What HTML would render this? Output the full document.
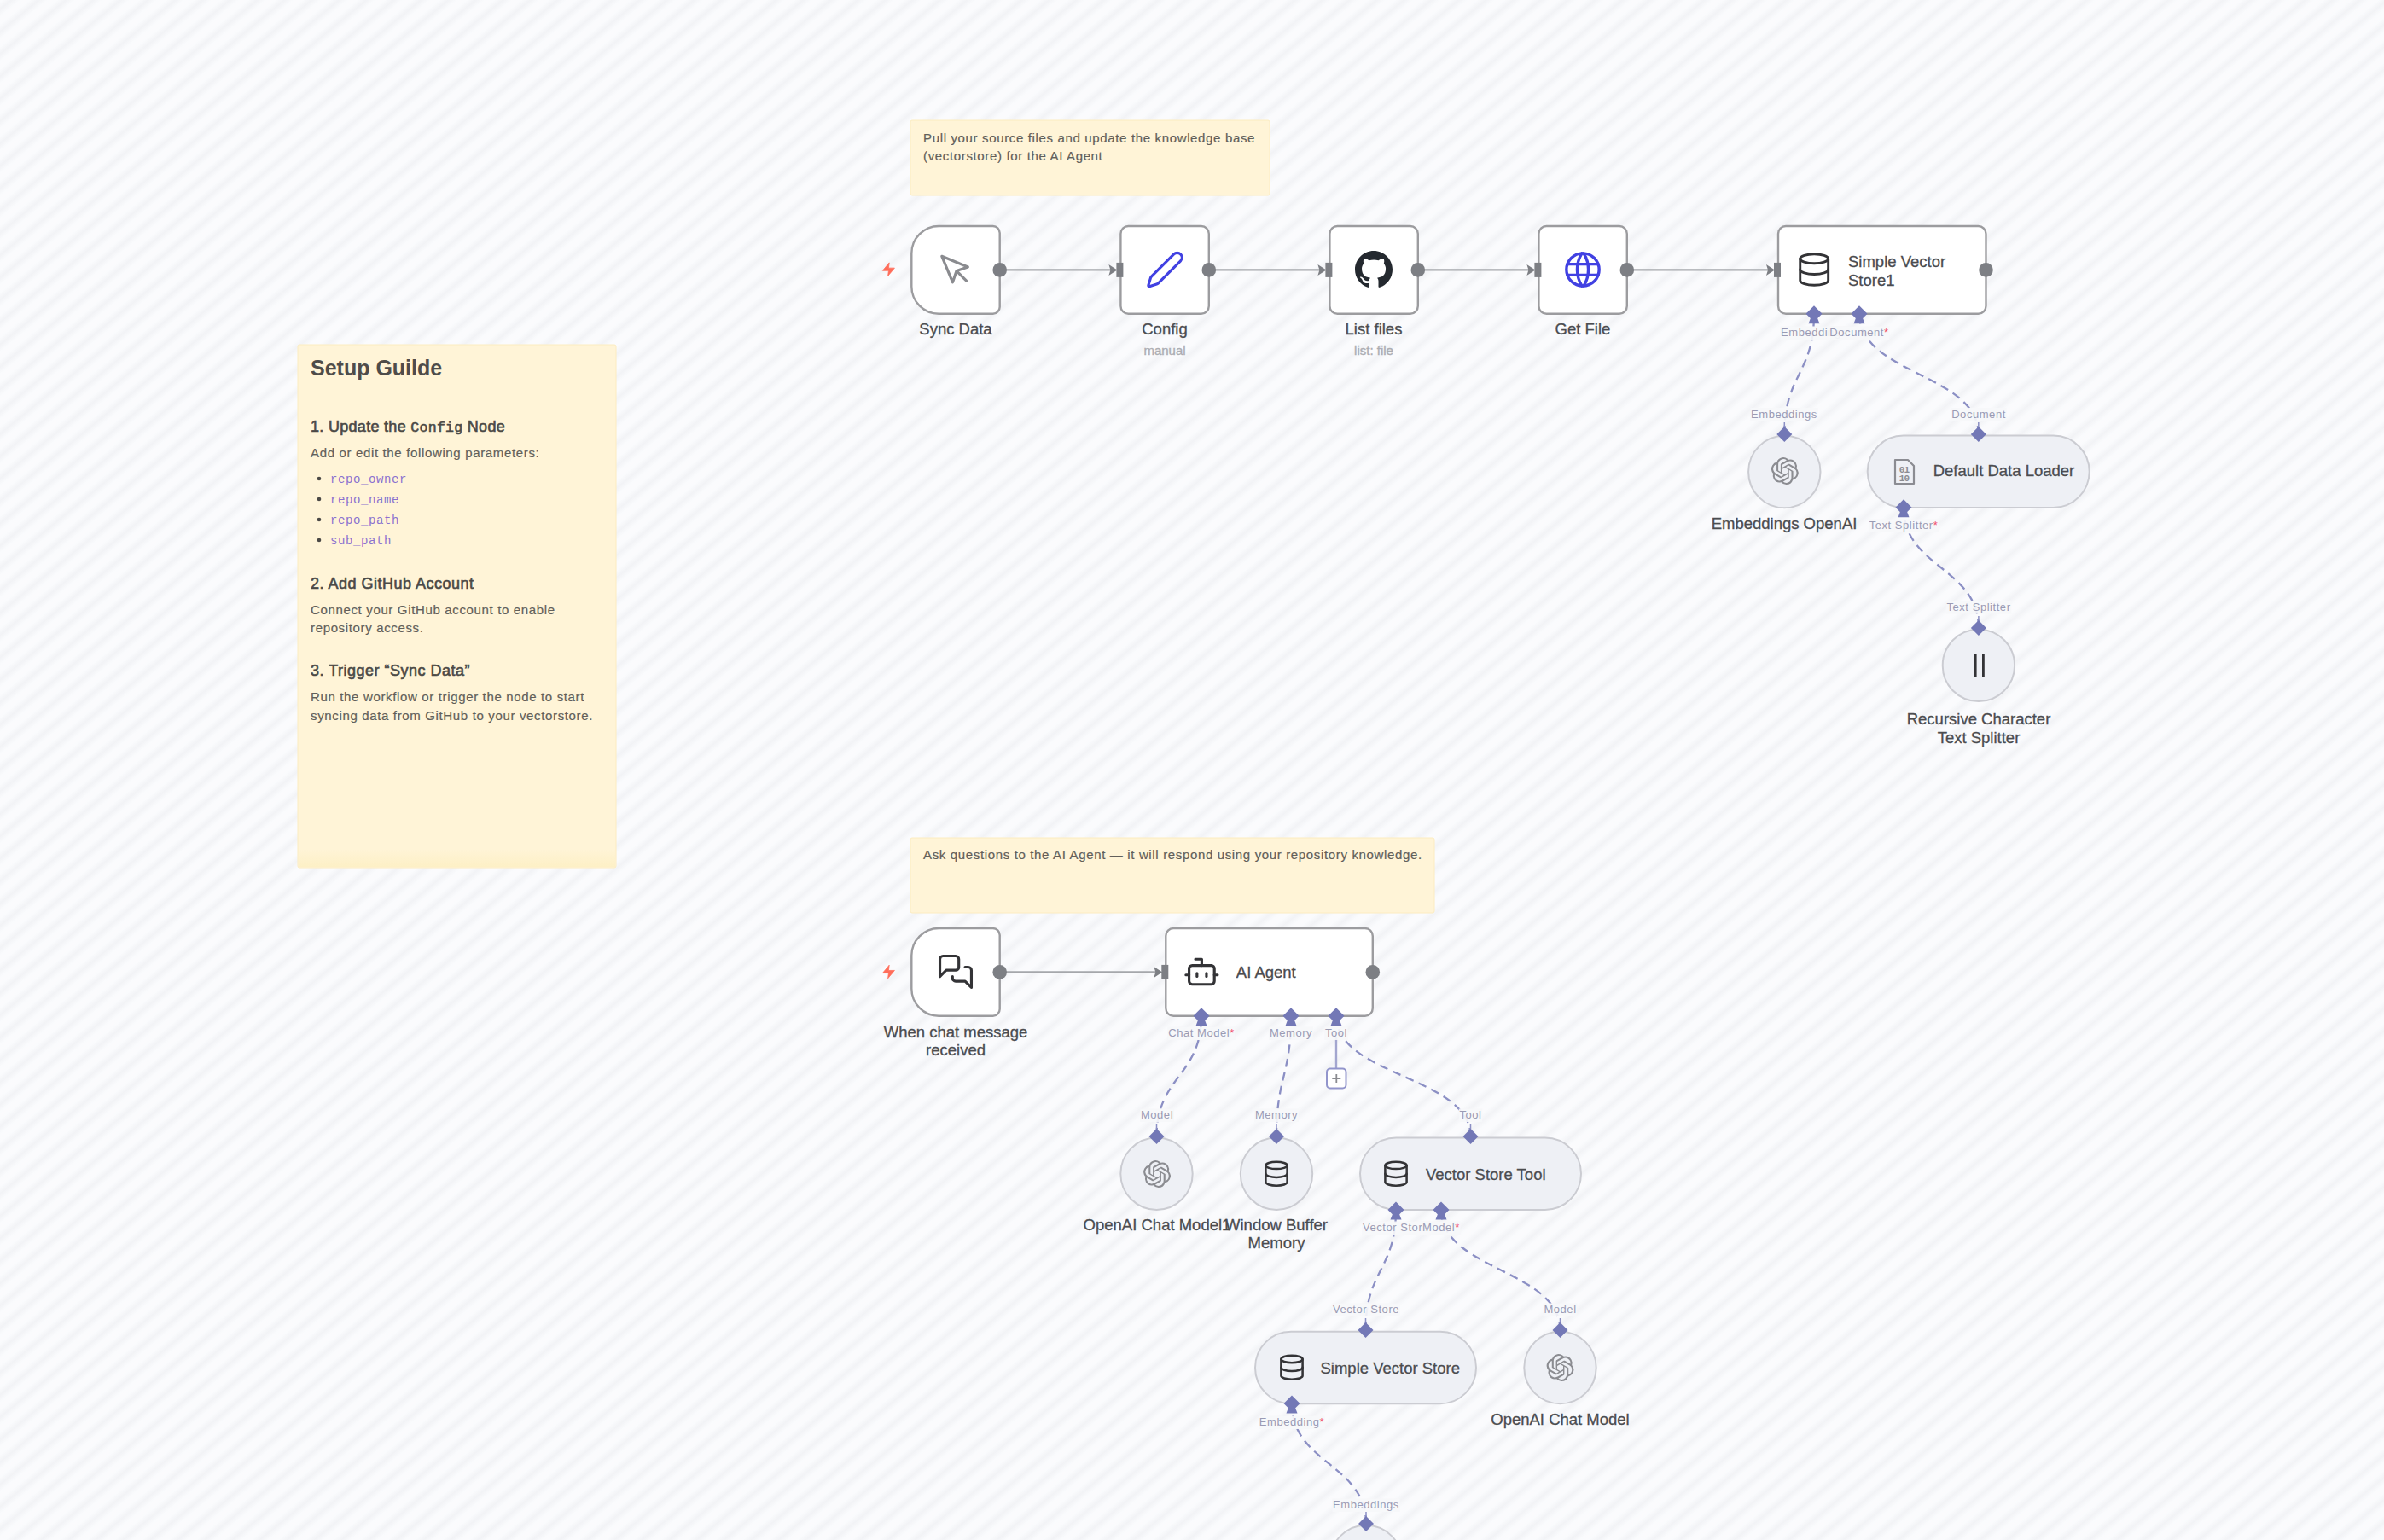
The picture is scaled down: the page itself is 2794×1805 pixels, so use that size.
<!DOCTYPE html><html><head><meta charset="utf-8"><title>n8n workflow</title><style>html,body{margin:0;padding:0;width:2794px;height:1805px;overflow:hidden;}body{background-color:#f6f7fa;background-image:repeating-linear-gradient(140.7deg,#fbfbfd -1.64px,#fafbfd 2px,#f2f3f6 8.5px,#fafbfd 15px,#fbfbfd 18.63px);}svg{position:absolute;left:0;top:0;}</style></head><body>
<svg width="2794" height="1805" viewBox="0 0 2794 1805">
<rect x="1067" y="141" width="421" height="88" rx="2" fill="#fff4d7" stroke="#fcecc0" stroke-width="1"/>
<rect x="349" y="404" width="373" height="613" rx="2" fill="#fff4d7" stroke="#fcecc0" stroke-width="1"/>
<defs><linearGradient id="sg" x1="0" y1="0" x2="0" y2="1"><stop offset="0" stop-color="#fdf0c6" stop-opacity="0"/><stop offset="1" stop-color="#fdf0c6" stop-opacity="1"/></linearGradient></defs>
<rect x="350" y="995" width="371" height="21" fill="url(#sg)"/>
<rect x="1067" y="982" width="614" height="88" rx="2" fill="#fff4d7" stroke="#fcecc0" stroke-width="1"/>
<text x="1082" y="166.5" font-family='"Liberation Sans", sans-serif' font-size="15" fill="#625f5a" text-anchor="start" font-weight="normal" letter-spacing="0.65" stroke="#625f5a" stroke-width="0.2" >Pull your source files and update the knowledge base</text>
<text x="1082" y="188" font-family='"Liberation Sans", sans-serif' font-size="15" fill="#625f5a" text-anchor="start" font-weight="normal" letter-spacing="0.65" stroke="#625f5a" stroke-width="0.2" >(vectorstore) for the AI Agent</text>
<text x="1082" y="1006.5" font-family='"Liberation Sans", sans-serif' font-size="15" fill="#625f5a" text-anchor="start" font-weight="normal" letter-spacing="0.65" stroke="#625f5a" stroke-width="0.2" >Ask questions to the AI Agent — it will respond using your repository knowledge.</text>
<text x="364" y="439.5" font-family='"Liberation Sans", sans-serif' font-size="25" fill="#4e4c4a" text-anchor="start" font-weight="bold" letter-spacing="0" >Setup Guilde</text>
<text x="364" y="506" font-family='"Liberation Sans", sans-serif' font-size="18" fill="#4b4946" stroke="#4b4946" stroke-width="0.6" letter-spacing="0.3">1. Update the <tspan font-family='"Liberation Mono", monospace' font-size="16.5">Config</tspan> Node</text>
<text x="364" y="536" font-family='"Liberation Sans", sans-serif' font-size="15" fill="#625f5a" text-anchor="start" font-weight="normal" letter-spacing="0.65" stroke="#625f5a" stroke-width="0.2" >Add or edit the following parameters:</text>
<circle cx="374" cy="561" r="2.3" fill="#4b4946"/>
<text x="387" y="566" font-family='"Liberation Mono", monospace' font-size="14" fill="#8a72cf" text-anchor="start" font-weight="normal" letter-spacing="0.6" >repo_owner</text>
<circle cx="374" cy="585" r="2.3" fill="#4b4946"/>
<text x="387" y="590" font-family='"Liberation Mono", monospace' font-size="14" fill="#8a72cf" text-anchor="start" font-weight="normal" letter-spacing="0.6" >repo_name</text>
<circle cx="374" cy="609" r="2.3" fill="#4b4946"/>
<text x="387" y="614" font-family='"Liberation Mono", monospace' font-size="14" fill="#8a72cf" text-anchor="start" font-weight="normal" letter-spacing="0.6" >repo_path</text>
<circle cx="374" cy="633" r="2.3" fill="#4b4946"/>
<text x="387" y="638" font-family='"Liberation Mono", monospace' font-size="14" fill="#8a72cf" text-anchor="start" font-weight="normal" letter-spacing="0.6" >sub_path</text>
<text x="364" y="690" font-family='"Liberation Sans", sans-serif' font-size="18" fill="#4b4946" text-anchor="start" font-weight="normal" letter-spacing="0.5" stroke="#4b4946" stroke-width="0.6" >2. Add GitHub Account</text>
<text x="364" y="720" font-family='"Liberation Sans", sans-serif' font-size="15" fill="#625f5a" text-anchor="start" font-weight="normal" letter-spacing="0.65" stroke="#625f5a" stroke-width="0.2" >Connect your GitHub account to enable</text>
<text x="364" y="740.5" font-family='"Liberation Sans", sans-serif' font-size="15" fill="#625f5a" text-anchor="start" font-weight="normal" letter-spacing="0.65" stroke="#625f5a" stroke-width="0.2" >repository access.</text>
<text x="364" y="792" font-family='"Liberation Sans", sans-serif' font-size="18" fill="#4b4946" text-anchor="start" font-weight="normal" letter-spacing="0.5" stroke="#4b4946" stroke-width="0.6" >3. Trigger “Sync Data”</text>
<text x="364" y="822" font-family='"Liberation Sans", sans-serif' font-size="15" fill="#625f5a" text-anchor="start" font-weight="normal" letter-spacing="0.65" stroke="#625f5a" stroke-width="0.2" >Run the workflow or trigger the node to start</text>
<text x="364" y="844" font-family='"Liberation Sans", sans-serif' font-size="15" fill="#625f5a" text-anchor="start" font-weight="normal" letter-spacing="0.65" stroke="#625f5a" stroke-width="0.2" >syncing data from GitHub to your vectorstore.</text>
<line x1="1171.7" y1="316.4" x2="1302.4" y2="316.4" stroke="#a5a7ab" stroke-width="2.4"/>
<polygon points="1299.4,309.9 1309.4,316.4 1299.4,322.9 1301.4,316.4" fill="#7d7f84"/>
<line x1="1416.8" y1="316.4" x2="1547.4" y2="316.4" stroke="#a5a7ab" stroke-width="2.4"/>
<polygon points="1544.4,309.9 1554.4,316.4 1544.4,322.9 1546.4,316.4" fill="#7d7f84"/>
<line x1="1661.8" y1="316.4" x2="1792.4" y2="316.4" stroke="#a5a7ab" stroke-width="2.4"/>
<polygon points="1789.4,309.9 1799.4,316.4 1789.4,322.9 1791.4,316.4" fill="#7d7f84"/>
<line x1="1906.8" y1="316.4" x2="2073" y2="316.4" stroke="#a5a7ab" stroke-width="2.4"/>
<polygon points="2070,309.9 2080,316.4 2070,322.9 2072,316.4" fill="#7d7f84"/>
<line x1="1171.7" y1="1139.4" x2="1355.3" y2="1139.4" stroke="#a5a7ab" stroke-width="2.4"/>
<polygon points="1352.3,1132.9 1362.3,1139.4 1352.3,1145.9 1354.3,1139.4" fill="#7d7f84"/>
<path d="M2091.3,509 C2091.3,438.4 2126,438.4 2126,367.8" fill="none" stroke="#8b8fc4" stroke-width="2.3" stroke-dasharray="10 6.5"/>
<path d="M2318.8,509 C2318.8,438.4 2179,438.4 2179,367.8" fill="none" stroke="#8b8fc4" stroke-width="2.3" stroke-dasharray="10 6.5"/>
<path d="M2318.9,736 C2318.9,665.4 2231,665.4 2231,594.8" fill="none" stroke="#8b8fc4" stroke-width="2.3" stroke-dasharray="10 6.5"/>
<path d="M1355.5,1332 C1355.5,1261.4 1408,1261.4 1408,1190.8" fill="none" stroke="#8b8fc4" stroke-width="2.3" stroke-dasharray="10 6.5"/>
<path d="M1496,1332 C1496,1261.4 1513,1261.4 1513,1190.8" fill="none" stroke="#8b8fc4" stroke-width="2.3" stroke-dasharray="10 6.5"/>
<path d="M1723.5,1332 C1723.5,1261.4 1566,1261.4 1566,1190.8" fill="none" stroke="#8b8fc4" stroke-width="2.3" stroke-dasharray="10 6.5"/>
<path d="M1600.5,1559 C1600.5,1488.5 1636,1488.5 1636,1418" fill="none" stroke="#8b8fc4" stroke-width="2.3" stroke-dasharray="10 6.5"/>
<path d="M1828.5,1559 C1828.5,1488.5 1689,1488.5 1689,1418" fill="none" stroke="#8b8fc4" stroke-width="2.3" stroke-dasharray="10 6.5"/>
<path d="M1601,1786 C1601,1715.5 1514,1715.5 1514,1645" fill="none" stroke="#8b8fc4" stroke-width="2.3" stroke-dasharray="10 6.5"/>
<line x1="1566" y1="1215" x2="1566" y2="1252" stroke="#a3a6cf" stroke-width="2.4"/>
<rect x="1555" y="1252.5" width="22.5" height="23" rx="4" fill="#ffffff" stroke="#9295cc" stroke-width="2"/>
<path d="M1566.3,1259 v10 M1561.3,1264 h10" stroke="#8a8b90" stroke-width="1.8"/>
<path d="M1100.3,265 H1163.7 A8,8 0 0 1 1171.7,273 V359.8 A8,8 0 0 1 1163.7,367.8 H1100.3 A32,32 0 0 1 1068.3,335.8 V297 A32,32 0 0 1 1100.3,265 Z" fill="#ffffff" stroke="#9c9c9f" stroke-width="2.4"/>
<rect x="1313.4" y="265" width="103.4" height="102.8" rx="9" fill="#ffffff" stroke="#9c9c9f" stroke-width="2.4"/>
<rect x="1558.4" y="265" width="103.4" height="102.8" rx="9" fill="#ffffff" stroke="#9c9c9f" stroke-width="2.4"/>
<rect x="1803.4" y="265" width="103.4" height="102.8" rx="9" fill="#ffffff" stroke="#9c9c9f" stroke-width="2.4"/>
<rect x="2084" y="265" width="243.5" height="102.8" rx="9" fill="#ffffff" stroke="#9c9c9f" stroke-width="2.4"/>
<path d="M1100.3,1088 H1163.7 A8,8 0 0 1 1171.7,1096 V1182.8 A8,8 0 0 1 1163.7,1190.8 H1100.3 A32,32 0 0 1 1068.3,1158.8 V1120 A32,32 0 0 1 1100.3,1088 Z" fill="#ffffff" stroke="#9c9c9f" stroke-width="2.4"/>
<rect x="1366.3" y="1088" width="242.5" height="102.8" rx="9" fill="#ffffff" stroke="#9c9c9f" stroke-width="2.4"/>
<rect x="2049.1000000000004" y="510.8" width="84.4" height="84.4" rx="42.2" fill="#eef0f5" stroke="#cbccd2" stroke-width="2"/>
<rect x="2188.7" y="510.6" width="260" height="84.4" rx="42.2" fill="#eef0f5" stroke="#cbccd2" stroke-width="2"/>
<rect x="2276.7000000000003" y="737.6999999999999" width="84.4" height="84.4" rx="42.2" fill="#eef0f5" stroke="#cbccd2" stroke-width="2"/>
<rect x="1313.3" y="1333.5" width="84.4" height="84.4" rx="42.2" fill="#eef0f5" stroke="#cbccd2" stroke-width="2"/>
<rect x="1453.8" y="1333.5" width="84.4" height="84.4" rx="42.2" fill="#eef0f5" stroke="#cbccd2" stroke-width="2"/>
<rect x="1594" y="1333.5" width="259" height="84.4" rx="42.2" fill="#eef0f5" stroke="#cbccd2" stroke-width="2"/>
<rect x="1471" y="1560.8" width="259" height="84.4" rx="42.2" fill="#eef0f5" stroke="#cbccd2" stroke-width="2"/>
<rect x="1786.3" y="1560.8" width="84.4" height="84.4" rx="42.2" fill="#eef0f5" stroke="#cbccd2" stroke-width="2"/>
<rect x="1558.8" y="1787.8" width="84.4" height="84.4" rx="42.2" fill="#eef0f5" stroke="#cbccd2" stroke-width="2"/>
<circle cx="1171.7" cy="316.4" r="8.3" fill="#7d7f84"/>
<circle cx="1416.8" cy="316.4" r="8.3" fill="#7d7f84"/>
<circle cx="1661.8" cy="316.4" r="8.3" fill="#7d7f84"/>
<circle cx="1906.8" cy="316.4" r="8.3" fill="#7d7f84"/>
<circle cx="2327.5" cy="316.4" r="8.3" fill="#7d7f84"/>
<rect x="1308.4" y="307.9" width="8" height="17" fill="#7d7f84"/>
<rect x="1553.4" y="307.9" width="8" height="17" fill="#7d7f84"/>
<rect x="1798.4" y="307.9" width="8" height="17" fill="#7d7f84"/>
<rect x="2079" y="307.9" width="8" height="17" fill="#7d7f84"/>
<circle cx="1171.7" cy="1139.4" r="8.3" fill="#7d7f84"/>
<circle cx="1608.8" cy="1139.4" r="8.3" fill="#7d7f84"/>
<rect x="1361.3" y="1130.9" width="8" height="17" fill="#7d7f84"/>
<polygon points="2126,358.3 2135.5,367.8 2126,377.3 2116.5,367.8" fill="#7378b6"/>
<polygon points="2119.5,379.3 2132.5,379.3 2130,372.8 2122,372.8" fill="#7378b6"/>
<polygon points="2179,358.3 2188.5,367.8 2179,377.3 2169.5,367.8" fill="#7378b6"/>
<polygon points="2172.5,379.3 2185.5,379.3 2183,372.8 2175,372.8" fill="#7378b6"/>
<polygon points="2231,585.3 2240.5,594.8 2231,604.3 2221.5,594.8" fill="#7378b6"/>
<polygon points="2224.5,606.3 2237.5,606.3 2235,599.8 2227,599.8" fill="#7378b6"/>
<polygon points="1408,1181.3 1417.5,1190.8 1408,1200.3 1398.5,1190.8" fill="#7378b6"/>
<polygon points="1401.5,1202.3 1414.5,1202.3 1412,1195.8 1404,1195.8" fill="#7378b6"/>
<polygon points="1513,1181.3 1522.5,1190.8 1513,1200.3 1503.5,1190.8" fill="#7378b6"/>
<polygon points="1506.5,1202.3 1519.5,1202.3 1517,1195.8 1509,1195.8" fill="#7378b6"/>
<polygon points="1566,1181.3 1575.5,1190.8 1566,1200.3 1556.5,1190.8" fill="#7378b6"/>
<polygon points="1559.5,1202.3 1572.5,1202.3 1570,1195.8 1562,1195.8" fill="#7378b6"/>
<polygon points="1636,1408.5 1645.5,1418 1636,1427.5 1626.5,1418" fill="#7378b6"/>
<polygon points="1629.5,1429.5 1642.5,1429.5 1640,1423 1632,1423" fill="#7378b6"/>
<polygon points="1689,1408.5 1698.5,1418 1689,1427.5 1679.5,1418" fill="#7378b6"/>
<polygon points="1682.5,1429.5 1695.5,1429.5 1693,1423 1685,1423" fill="#7378b6"/>
<polygon points="1514,1635.5 1523.5,1645 1514,1654.5 1504.5,1645" fill="#7378b6"/>
<polygon points="1507.5,1656.5 1520.5,1656.5 1518,1650 1510,1650" fill="#7378b6"/>
<line x1="2091.3" y1="495" x2="2091.3" y2="509" stroke="#8b8fc4" stroke-width="1.5"/>
<polygon points="2091.3,500 2100.3,509 2091.3,518 2082.3,509" fill="#7378b6"/>
<line x1="2318.8" y1="495" x2="2318.8" y2="509" stroke="#8b8fc4" stroke-width="1.5"/>
<polygon points="2318.8,500 2327.8,509 2318.8,518 2309.8,509" fill="#7378b6"/>
<line x1="2318.9" y1="722" x2="2318.9" y2="736" stroke="#8b8fc4" stroke-width="1.5"/>
<polygon points="2318.9,727 2327.9,736 2318.9,745 2309.9,736" fill="#7378b6"/>
<line x1="1355.5" y1="1318" x2="1355.5" y2="1332" stroke="#8b8fc4" stroke-width="1.5"/>
<polygon points="1355.5,1323 1364.5,1332 1355.5,1341 1346.5,1332" fill="#7378b6"/>
<line x1="1496" y1="1318" x2="1496" y2="1332" stroke="#8b8fc4" stroke-width="1.5"/>
<polygon points="1496,1323 1505,1332 1496,1341 1487,1332" fill="#7378b6"/>
<line x1="1723.5" y1="1318" x2="1723.5" y2="1332" stroke="#8b8fc4" stroke-width="1.5"/>
<polygon points="1723.5,1323 1732.5,1332 1723.5,1341 1714.5,1332" fill="#7378b6"/>
<line x1="1600.5" y1="1545" x2="1600.5" y2="1559" stroke="#8b8fc4" stroke-width="1.5"/>
<polygon points="1600.5,1550 1609.5,1559 1600.5,1568 1591.5,1559" fill="#7378b6"/>
<line x1="1828.5" y1="1545" x2="1828.5" y2="1559" stroke="#8b8fc4" stroke-width="1.5"/>
<polygon points="1828.5,1550 1837.5,1559 1828.5,1568 1819.5,1559" fill="#7378b6"/>
<line x1="1601" y1="1772" x2="1601" y2="1786" stroke="#8b8fc4" stroke-width="1.5"/>
<polygon points="1601,1777 1610,1786 1601,1795 1592,1786" fill="#7378b6"/>
<g>
<rect x="2086.3921875" y="382.5" width="79.215625" height="15.5" fill="#f6f7fa" fill-opacity="0.92"/>
<text x="2126" y="394" font-family='"Liberation Sans", sans-serif' font-size="13" fill="#9a9bb4" text-anchor="middle" letter-spacing="0.55">Embeddings</text>
</g>
<g>
<rect x="2143.64609375" y="382.5" width="70.7078125" height="15.5" fill="#f6f7fa" fill-opacity="0.92"/>
<text x="2179" y="394" font-family='"Liberation Sans", sans-serif' font-size="13" fill="#9a9bb4" text-anchor="middle" letter-spacing="0.55">Document<tspan fill="#f0506e">*</tspan></text>
</g>
<g>
<rect x="2051.3921875" y="478.0" width="79.215625" height="15.5" fill="#f6f7fa" fill-opacity="0.92"/>
<text x="2091" y="489.5" font-family='"Liberation Sans", sans-serif' font-size="13" fill="#9a9bb4" text-anchor="middle" letter-spacing="0.55">Embeddings</text>
</g>
<g>
<rect x="2286.45078125" y="478.0" width="65.0984375" height="15.5" fill="#f6f7fa" fill-opacity="0.92"/>
<text x="2319" y="489.5" font-family='"Liberation Sans", sans-serif' font-size="13" fill="#9a9bb4" text-anchor="middle" letter-spacing="0.55">Document</text>
</g>
<g>
<rect x="2189.93828125" y="608.5" width="82.12343750000001" height="15.5" fill="#f6f7fa" fill-opacity="0.92"/>
<text x="2231" y="620" font-family='"Liberation Sans", sans-serif' font-size="13" fill="#9a9bb4" text-anchor="middle" letter-spacing="0.55">Text Splitter<tspan fill="#f0506e">*</tspan></text>
</g>
<g>
<rect x="2280.74296875" y="704.0" width="76.5140625" height="15.5" fill="#f6f7fa" fill-opacity="0.92"/>
<text x="2319" y="715.5" font-family='"Liberation Sans", sans-serif' font-size="13" fill="#9a9bb4" text-anchor="middle" letter-spacing="0.55">Text Splitter</text>
</g>
<g>
<rect x="1368.48125" y="1203.5" width="79.0375" height="15.5" fill="#f6f7fa" fill-opacity="0.92"/>
<text x="1408" y="1215" font-family='"Liberation Sans", sans-serif' font-size="13" fill="#9a9bb4" text-anchor="middle" letter-spacing="0.55">Chat Model<tspan fill="#f0506e">*</tspan></text>
</g>
<g>
<rect x="1487.15078125" y="1203.5" width="51.6984375" height="15.5" fill="#f6f7fa" fill-opacity="0.92"/>
<text x="1513" y="1215" font-family='"Liberation Sans", sans-serif' font-size="13" fill="#9a9bb4" text-anchor="middle" letter-spacing="0.55">Memory</text>
</g>
<g>
<rect x="1552.2515625" y="1203.5" width="27.496875" height="15.5" fill="#f6f7fa" fill-opacity="0.92"/>
<text x="1566" y="1215" font-family='"Liberation Sans", sans-serif' font-size="13" fill="#9a9bb4" text-anchor="middle" letter-spacing="0.55">Tool</text>
</g>
<g>
<rect x="1336.196875" y="1299.5" width="39.60625" height="15.5" fill="#f6f7fa" fill-opacity="0.92"/>
<text x="1356" y="1311" font-family='"Liberation Sans", sans-serif' font-size="13" fill="#9a9bb4" text-anchor="middle" letter-spacing="0.55">Model</text>
</g>
<g>
<rect x="1470.15078125" y="1299.5" width="51.6984375" height="15.5" fill="#f6f7fa" fill-opacity="0.92"/>
<text x="1496" y="1311" font-family='"Liberation Sans", sans-serif' font-size="13" fill="#9a9bb4" text-anchor="middle" letter-spacing="0.55">Memory</text>
</g>
<g>
<rect x="1709.7515625" y="1299.5" width="27.496875" height="15.5" fill="#f6f7fa" fill-opacity="0.92"/>
<text x="1723.5" y="1311" font-family='"Liberation Sans", sans-serif' font-size="13" fill="#9a9bb4" text-anchor="middle" letter-spacing="0.55">Tool</text>
</g>
<g>
<rect x="1596.20546875" y="1431.5" width="79.5890625" height="15.5" fill="#f6f7fa" fill-opacity="0.92"/>
<text x="1636" y="1443" font-family='"Liberation Sans", sans-serif' font-size="13" fill="#9a9bb4" text-anchor="middle" letter-spacing="0.55">Vector Store</text>
</g>
<g>
<rect x="1666.3921875" y="1431.5" width="45.215625" height="15.5" fill="#f6f7fa" fill-opacity="0.92"/>
<text x="1689" y="1443" font-family='"Liberation Sans", sans-serif' font-size="13" fill="#9a9bb4" text-anchor="middle" letter-spacing="0.55">Model<tspan fill="#f0506e">*</tspan></text>
</g>
<g>
<rect x="1561.20546875" y="1527.5" width="79.5890625" height="15.5" fill="#f6f7fa" fill-opacity="0.92"/>
<text x="1601" y="1539" font-family='"Liberation Sans", sans-serif' font-size="13" fill="#9a9bb4" text-anchor="middle" letter-spacing="0.55">Vector Store</text>
</g>
<g>
<rect x="1808.696875" y="1527.5" width="39.60625" height="15.5" fill="#f6f7fa" fill-opacity="0.92"/>
<text x="1828.5" y="1539" font-family='"Liberation Sans", sans-serif' font-size="13" fill="#9a9bb4" text-anchor="middle" letter-spacing="0.55">Model</text>
</g>
<g>
<rect x="1475.1125" y="1659.5" width="77.775" height="15.5" fill="#f6f7fa" fill-opacity="0.92"/>
<text x="1514" y="1671" font-family='"Liberation Sans", sans-serif' font-size="13" fill="#9a9bb4" text-anchor="middle" letter-spacing="0.55">Embedding<tspan fill="#f0506e">*</tspan></text>
</g>
<g>
<rect x="1561.3921875" y="1756.5" width="79.215625" height="15.5" fill="#f6f7fa" fill-opacity="0.92"/>
<text x="1601" y="1768" font-family='"Liberation Sans", sans-serif' font-size="13" fill="#9a9bb4" text-anchor="middle" letter-spacing="0.55">Embeddings</text>
</g>
<g transform="translate(1098.4,294.9) scale(1.8)" fill="none" stroke="#8a8b8f" stroke-width="1.75" stroke-linejoin="round" stroke-linecap="round"><path d="M3 3l7.07 16.97 2.51-7.39 7.39-2.51L3 3z"/><path d="M13 13l6 6"/></g>
<g transform="translate(1341.86,292.36) scale(1.97)" fill="none" stroke="#4141e2" stroke-width="1.6" stroke-linejoin="round" stroke-linecap="round"><path d="M21.174 6.812a1 1 0 0 0-3.986-3.987L3.842 16.174a2 2 0 0 0-.5.83l-1.321 4.352a.5.5 0 0 0 .623.622l4.353-1.32a2 2 0 0 0 .83-.497z"/></g>
<g transform="translate(1588.0,294.0) scale(2.75)" fill="#24292f"><path d="M8 0C3.58 0 0 3.58 0 8c0 3.54 2.29 6.53 5.47 7.59.4.07.55-.17.55-.38 0-.19-.01-.82-.01-1.49-2.01.37-2.53-.49-2.69-.94-.09-.23-.48-.94-.82-1.13-.28-.15-.68-.52-.01-.53.63-.01 1.08.58 1.23.82.72 1.21 1.87.87 2.33.66.07-.52.28-.87.51-1.07-1.78-.2-3.64-.89-3.64-3.95 0-.87.31-1.59.82-2.15-.08-.2-.36-1.02.08-2.12 0 0 .67-.21 2.2.82.64-.18 1.32-.27 2-.27.68 0 1.36.09 2 .27 1.53-1.04 2.2-.82 2.2-.82.44 1.1.16 1.92.08 2.12.51.56.82 1.27.82 2.15 0 3.07-1.87 3.75-3.65 3.95.29.25.54.73.54 1.48 0 1.07-.01 1.93-.01 2.2 0 .21.15.46.55.38A8.013 8.013 0 0016 8c0-4.42-3.58-8-8-8z"/></g>
<g transform="translate(1829.44,290.44) scale(2.13)" fill="none" stroke="#4141e2" stroke-width="1.6" stroke-linejoin="round" stroke-linecap="round"><circle cx="12" cy="12" r="9"/><path d="M3.6 9h16.8"/><path d="M3.6 15h16.8"/><path d="M11.5 3a17 17 0 0 0 0 18"/><path d="M12.5 3a17 17 0 0 1 0 18"/></g>
<g transform="translate(2104.24,294.04) scale(1.83)" fill="none" stroke="#333336" stroke-width="1.6" stroke-linejoin="round" stroke-linecap="round"><ellipse cx="12" cy="5" rx="9" ry="3"/><path d="M3 5V19A9 3 0 0 0 21 19V5"/><path d="M3 12A9 3 0 0 0 21 12"/></g>
<g transform="translate(1032.0400000000002,306.34) scale(0.78)"><polygon points="13,2 3,14 12,14 11,22 21,10 12,10" fill="#ff6d5a" stroke="#ff6d5a" stroke-width="1" stroke-linejoin="round"/></g>
<g transform="translate(1032.0400000000002,1129.64) scale(0.78)"><polygon points="13,2 3,14 12,14 11,22 21,10 12,10" fill="#ff6d5a" stroke="#ff6d5a" stroke-width="1" stroke-linejoin="round"/></g>
<g transform="translate(2075.8,536.0) scale(1.3333333333333333)" fill="#8b8c91"><path d="M22.2819 9.8211a5.9847 5.9847 0 0 0-.5157-4.9108 6.0462 6.0462 0 0 0-6.5098-2.9A6.0651 6.0651 0 0 0 4.9807 4.1818a5.9847 5.9847 0 0 0-3.9977 2.9 6.0462 6.0462 0 0 0 .7427 7.0966 5.98 5.98 0 0 0 .511 4.9107 6.051 6.051 0 0 0 6.5146 2.9001A5.9847 5.9847 0 0 0 13.2599 24a6.0557 6.0557 0 0 0 5.7718-4.2058 5.9894 5.9894 0 0 0 3.9977-2.9001 6.0557 6.0557 0 0 0-.7475-7.0729zm-9.022 12.6081a4.4755 4.4755 0 0 1-2.8764-1.0408l.1419-.0804 4.7783-2.7582a.7948.7948 0 0 0 .3927-.6813v-6.7369l2.02 1.1686a.071.071 0 0 1 .038.052v5.5826a4.504 4.504 0 0 1-4.4945 4.4944zm-9.6607-4.1254a4.4708 4.4708 0 0 1-.5346-3.0137l.142.0852 4.783 2.7582a.7712.7712 0 0 0 .7806 0l5.8428-3.3685v2.3324a.0804.0804 0 0 1-.0332.0615L9.74 19.9502a4.4992 4.4992 0 0 1-6.1408-1.6464zM2.3408 7.8956a4.485 4.485 0 0 1 2.3655-1.9728V11.6a.7664.7664 0 0 0 .3879.6765l5.8144 3.3543-2.0201 1.1685a.0757.0757 0 0 1-.071 0l-4.8303-2.7865A4.504 4.504 0 0 1 2.3408 7.872zm16.5963 3.8558L13.1038 8.364 15.1192 7.2a.0757.0757 0 0 1 .071 0l4.8303 2.7913a4.4944 4.4944 0 0 1-.6765 8.1042v-5.6772a.79.79 0 0 0-.407-.667zm2.0107-3.0231l-.142-.0852-4.7735-2.7818a.7759.7759 0 0 0-.7854 0L9.409 9.2297V6.8974a.0662.0662 0 0 1 .0284-.0615l4.8303-2.7866a4.4992 4.4992 0 0 1 6.6802 4.66zM8.3065 12.863l-2.02-1.1638a.0804.0804 0 0 1-.038-.0567V6.0742a4.4992 4.4992 0 0 1 7.3757-3.4537l-.142.0805L8.704 5.459a.7948.7948 0 0 0-.3927.6813zm1.0976-2.3654l2.602-1.4998 2.6069 1.4998v2.9994l-2.5974 1.4997-2.6067-1.4997Z"/></g>
<path d="M2221,539 H2236 L2243,546 V567 H2221 Z" fill="none" stroke="#8b8c92" stroke-width="2.2" stroke-linejoin="round"/>
<text x="2231.5" y="553.5" font-family='"Liberation Mono", monospace' font-size="11" font-weight="bold" fill="#8b8c92" text-anchor="middle" letter-spacing="-0.8">01</text>
<text x="2231.5" y="563.5" font-family='"Liberation Mono", monospace' font-size="11" font-weight="bold" fill="#8b8c92" text-anchor="middle" letter-spacing="-0.8">10</text>
<line x1="2315.2000000000003" y1="766.3" x2="2315.2000000000003" y2="793.7" stroke="#333336" stroke-width="2.8"/>
<line x1="2324.4" y1="766.3" x2="2324.4" y2="793.7" stroke="#333336" stroke-width="2.8"/>
<g transform="translate(1097.86,1116.86) scale(1.845)" fill="none" stroke="#333336" stroke-width="1.7" stroke-linejoin="round" stroke-linecap="round"><path d="M14 9a2 2 0 0 1-2 2H6l-4 4V4a2 2 0 0 1 2-2h8a2 2 0 0 1 2 2z"/><path d="M18 9h2a2 2 0 0 1 2 2v11l-4-4h-6a2 2 0 0 1-2-2v-1"/></g>
<g transform="translate(1386.2,1116.8) scale(1.85)" fill="none" stroke="#333336" stroke-width="1.7" stroke-linejoin="round" stroke-linecap="round"><path d="M12 8V4H8"/><rect width="16" height="12" x="4" y="8" rx="2"/><path d="M2 14h2"/><path d="M20 14h2"/><path d="M15 13v2"/><path d="M9 13v2"/></g>
<g transform="translate(1340.0,1360.0) scale(1.3333333333333333)" fill="#8b8c91"><path d="M22.2819 9.8211a5.9847 5.9847 0 0 0-.5157-4.9108 6.0462 6.0462 0 0 0-6.5098-2.9A6.0651 6.0651 0 0 0 4.9807 4.1818a5.9847 5.9847 0 0 0-3.9977 2.9 6.0462 6.0462 0 0 0 .7427 7.0966 5.98 5.98 0 0 0 .511 4.9107 6.051 6.051 0 0 0 6.5146 2.9001A5.9847 5.9847 0 0 0 13.2599 24a6.0557 6.0557 0 0 0 5.7718-4.2058 5.9894 5.9894 0 0 0 3.9977-2.9001 6.0557 6.0557 0 0 0-.7475-7.0729zm-9.022 12.6081a4.4755 4.4755 0 0 1-2.8764-1.0408l.1419-.0804 4.7783-2.7582a.7948.7948 0 0 0 .3927-.6813v-6.7369l2.02 1.1686a.071.071 0 0 1 .038.052v5.5826a4.504 4.504 0 0 1-4.4945 4.4944zm-9.6607-4.1254a4.4708 4.4708 0 0 1-.5346-3.0137l.142.0852 4.783 2.7582a.7712.7712 0 0 0 .7806 0l5.8428-3.3685v2.3324a.0804.0804 0 0 1-.0332.0615L9.74 19.9502a4.4992 4.4992 0 0 1-6.1408-1.6464zM2.3408 7.8956a4.485 4.485 0 0 1 2.3655-1.9728V11.6a.7664.7664 0 0 0 .3879.6765l5.8144 3.3543-2.0201 1.1685a.0757.0757 0 0 1-.071 0l-4.8303-2.7865A4.504 4.504 0 0 1 2.3408 7.872zm16.5963 3.8558L13.1038 8.364 15.1192 7.2a.0757.0757 0 0 1 .071 0l4.8303 2.7913a4.4944 4.4944 0 0 1-.6765 8.1042v-5.6772a.79.79 0 0 0-.407-.667zm2.0107-3.0231l-.142-.0852-4.7735-2.7818a.7759.7759 0 0 0-.7854 0L9.409 9.2297V6.8974a.0662.0662 0 0 1 .0284-.0615l4.8303-2.7866a4.4992 4.4992 0 0 1 6.6802 4.66zM8.3065 12.863l-2.02-1.1638a.0804.0804 0 0 1-.038-.0567V6.0742a4.4992 4.4992 0 0 1 7.3757-3.4537l-.142.0805L8.704 5.459a.7948.7948 0 0 0-.3927.6813zm1.0976-2.3654l2.602-1.4998 2.6069 1.4998v2.9994l-2.5974 1.4997-2.6067-1.4997Z"/></g>
<g transform="translate(1479.2,1358.9) scale(1.4)" fill="none" stroke="#333336" stroke-width="1.8" stroke-linejoin="round" stroke-linecap="round"><ellipse cx="12" cy="5" rx="9" ry="3"/><path d="M3 5V19A9 3 0 0 0 21 19V5"/><path d="M3 12A9 3 0 0 0 21 12"/></g>
<g transform="translate(1619.2,1358.9) scale(1.4)" fill="none" stroke="#333336" stroke-width="1.8" stroke-linejoin="round" stroke-linecap="round"><ellipse cx="12" cy="5" rx="9" ry="3"/><path d="M3 5V19A9 3 0 0 0 21 19V5"/><path d="M3 12A9 3 0 0 0 21 12"/></g>
<g transform="translate(1497.2,1586.0) scale(1.4)" fill="none" stroke="#333336" stroke-width="1.8" stroke-linejoin="round" stroke-linecap="round"><ellipse cx="12" cy="5" rx="9" ry="3"/><path d="M3 5V19A9 3 0 0 0 21 19V5"/><path d="M3 12A9 3 0 0 0 21 12"/></g>
<g transform="translate(1812.5,1587.0) scale(1.3333333333333333)" fill="#8b8c91"><path d="M22.2819 9.8211a5.9847 5.9847 0 0 0-.5157-4.9108 6.0462 6.0462 0 0 0-6.5098-2.9A6.0651 6.0651 0 0 0 4.9807 4.1818a5.9847 5.9847 0 0 0-3.9977 2.9 6.0462 6.0462 0 0 0 .7427 7.0966 5.98 5.98 0 0 0 .511 4.9107 6.051 6.051 0 0 0 6.5146 2.9001A5.9847 5.9847 0 0 0 13.2599 24a6.0557 6.0557 0 0 0 5.7718-4.2058 5.9894 5.9894 0 0 0 3.9977-2.9001 6.0557 6.0557 0 0 0-.7475-7.0729zm-9.022 12.6081a4.4755 4.4755 0 0 1-2.8764-1.0408l.1419-.0804 4.7783-2.7582a.7948.7948 0 0 0 .3927-.6813v-6.7369l2.02 1.1686a.071.071 0 0 1 .038.052v5.5826a4.504 4.504 0 0 1-4.4945 4.4944zm-9.6607-4.1254a4.4708 4.4708 0 0 1-.5346-3.0137l.142.0852 4.783 2.7582a.7712.7712 0 0 0 .7806 0l5.8428-3.3685v2.3324a.0804.0804 0 0 1-.0332.0615L9.74 19.9502a4.4992 4.4992 0 0 1-6.1408-1.6464zM2.3408 7.8956a4.485 4.485 0 0 1 2.3655-1.9728V11.6a.7664.7664 0 0 0 .3879.6765l5.8144 3.3543-2.0201 1.1685a.0757.0757 0 0 1-.071 0l-4.8303-2.7865A4.504 4.504 0 0 1 2.3408 7.872zm16.5963 3.8558L13.1038 8.364 15.1192 7.2a.0757.0757 0 0 1 .071 0l4.8303 2.7913a4.4944 4.4944 0 0 1-.6765 8.1042v-5.6772a.79.79 0 0 0-.407-.667zm2.0107-3.0231l-.142-.0852-4.7735-2.7818a.7759.7759 0 0 0-.7854 0L9.409 9.2297V6.8974a.0662.0662 0 0 1 .0284-.0615l4.8303-2.7866a4.4992 4.4992 0 0 1 6.6802 4.66zM8.3065 12.863l-2.02-1.1638a.0804.0804 0 0 1-.038-.0567V6.0742a4.4992 4.4992 0 0 1 7.3757-3.4537l-.142.0805L8.704 5.459a.7948.7948 0 0 0-.3927.6813zm1.0976-2.3654l2.602-1.4998 2.6069 1.4998v2.9994l-2.5974 1.4997-2.6067-1.4997Z"/></g>
<text x="1120" y="392" font-family='"Liberation Sans", sans-serif' font-size="18.5" fill="#4b4c50" text-anchor="middle" font-weight="normal" letter-spacing="0" stroke="#4b4c50" stroke-width="0.3" >Sync Data</text>
<text x="1365" y="392" font-family='"Liberation Sans", sans-serif' font-size="18.5" fill="#4b4c50" text-anchor="middle" font-weight="normal" letter-spacing="0" stroke="#4b4c50" stroke-width="0.3" >Config</text>
<text x="1365" y="416" font-family='"Liberation Sans", sans-serif' font-size="15" fill="#acadb2" text-anchor="middle" font-weight="normal" letter-spacing="0" stroke="#acadb2" stroke-width="0.35" >manual</text>
<text x="1610" y="392" font-family='"Liberation Sans", sans-serif' font-size="18.5" fill="#4b4c50" text-anchor="middle" font-weight="normal" letter-spacing="0" stroke="#4b4c50" stroke-width="0.3" >List files</text>
<text x="1610" y="416" font-family='"Liberation Sans", sans-serif' font-size="15" fill="#acadb2" text-anchor="middle" font-weight="normal" letter-spacing="0" stroke="#acadb2" stroke-width="0.35" >list: file</text>
<text x="1855" y="392" font-family='"Liberation Sans", sans-serif' font-size="18.5" fill="#4b4c50" text-anchor="middle" font-weight="normal" letter-spacing="0" stroke="#4b4c50" stroke-width="0.3" >Get File</text>
<text x="2166" y="313" font-family='"Liberation Sans", sans-serif' font-size="18.5" fill="#4b4c50" text-anchor="start" font-weight="normal" letter-spacing="0" stroke="#4b4c50" stroke-width="0.3" >Simple Vector</text>
<text x="2166" y="335" font-family='"Liberation Sans", sans-serif' font-size="18.5" fill="#4b4c50" text-anchor="start" font-weight="normal" letter-spacing="0" stroke="#4b4c50" stroke-width="0.3" >Store1</text>
<text x="2091" y="619.7" font-family='"Liberation Sans", sans-serif' font-size="18.5" fill="#4b4c50" text-anchor="middle" font-weight="normal" letter-spacing="0" stroke="#4b4c50" stroke-width="0.3" >Embeddings OpenAI</text>
<text x="2265.7" y="558.3" font-family='"Liberation Sans", sans-serif' font-size="18.5" fill="#4b4c50" text-anchor="start" font-weight="normal" letter-spacing="0" stroke="#4b4c50" stroke-width="0.3" >Default Data Loader</text>
<text x="2319" y="849" font-family='"Liberation Sans", sans-serif' font-size="18.5" fill="#4b4c50" text-anchor="middle" font-weight="normal" letter-spacing="0" stroke="#4b4c50" stroke-width="0.3" >Recursive Character</text>
<text x="2319" y="871" font-family='"Liberation Sans", sans-serif' font-size="18.5" fill="#4b4c50" text-anchor="middle" font-weight="normal" letter-spacing="0" stroke="#4b4c50" stroke-width="0.3" >Text Splitter</text>
<text x="1120" y="1216" font-family='"Liberation Sans", sans-serif' font-size="18.5" fill="#4b4c50" text-anchor="middle" font-weight="normal" letter-spacing="0" stroke="#4b4c50" stroke-width="0.3" >When chat message</text>
<text x="1120" y="1237" font-family='"Liberation Sans", sans-serif' font-size="18.5" fill="#4b4c50" text-anchor="middle" font-weight="normal" letter-spacing="0" stroke="#4b4c50" stroke-width="0.3" >received</text>
<text x="1448.8" y="1146" font-family='"Liberation Sans", sans-serif' font-size="18.5" fill="#4b4c50" text-anchor="start" font-weight="normal" letter-spacing="0" stroke="#4b4c50" stroke-width="0.3" >AI Agent</text>
<text x="1356" y="1442" font-family='"Liberation Sans", sans-serif' font-size="18.5" fill="#4b4c50" text-anchor="middle" font-weight="normal" letter-spacing="0" stroke="#4b4c50" stroke-width="0.3" >OpenAI Chat Model1</text>
<text x="1496" y="1442" font-family='"Liberation Sans", sans-serif' font-size="18.5" fill="#4b4c50" text-anchor="middle" font-weight="normal" letter-spacing="0" stroke="#4b4c50" stroke-width="0.3" >Window Buffer</text>
<text x="1496" y="1463" font-family='"Liberation Sans", sans-serif' font-size="18.5" fill="#4b4c50" text-anchor="middle" font-weight="normal" letter-spacing="0" stroke="#4b4c50" stroke-width="0.3" >Memory</text>
<text x="1671" y="1382.5" font-family='"Liberation Sans", sans-serif' font-size="18.5" fill="#4b4c50" text-anchor="start" font-weight="normal" letter-spacing="0" stroke="#4b4c50" stroke-width="0.3" >Vector Store Tool</text>
<text x="1547.5" y="1610" font-family='"Liberation Sans", sans-serif' font-size="18.5" fill="#4b4c50" text-anchor="start" font-weight="normal" letter-spacing="0" stroke="#4b4c50" stroke-width="0.3" >Simple Vector Store</text>
<text x="1828.5" y="1670" font-family='"Liberation Sans", sans-serif' font-size="18.5" fill="#4b4c50" text-anchor="middle" font-weight="normal" letter-spacing="0" stroke="#4b4c50" stroke-width="0.3" >OpenAI Chat Model</text>
</svg></body></html>
